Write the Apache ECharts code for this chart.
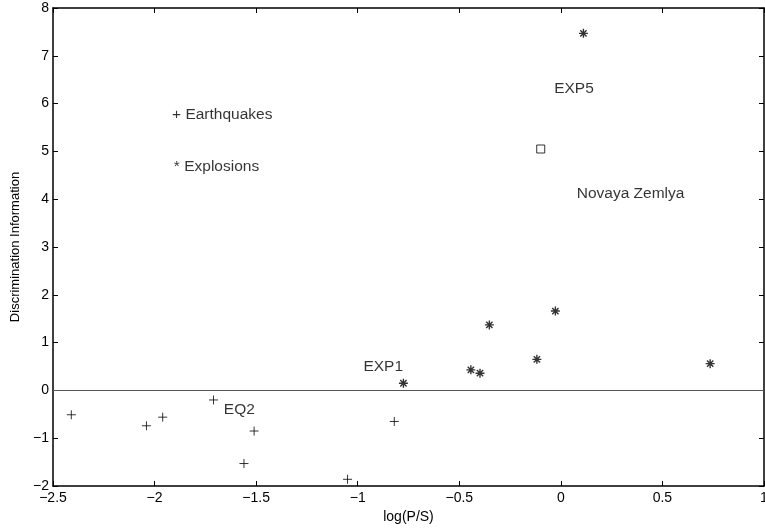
<!DOCTYPE html>
<html>
<head>
<meta charset="utf-8">
<script src="https://cdn.jsdelivr.net/npm/echarts@6/dist/echarts.min.js"></script>
<style>
  html, body { margin: 0; padding: 0; background: #fff; }
  #chart { width: 765px; height: 529px; }
</style>
</head>
<body>
<div id="chart"></div>
<script>
// earthquakes (+)
var quakeX = [-2.41, -2.04, -1.96, -1.71, -1.51, -1.56, -1.05, -0.82];
var quakeY = [-0.51, -0.74, -0.56, -0.20, -0.85, -1.53, -1.86, -0.65];
// explosions (*)
var blastX = [-0.775, -0.443, -0.398, -0.352, -0.118, -0.027, 0.735, 0.111];
var blastY = [0.15, 0.43, 0.36, 1.37, 0.65, 1.66, 0.56, 7.47];
// Novaya Zemlya (square)
var nzX = [-0.099];
var nzY = [5.05];
// text notes
var noteText = ['+ Earthquakes', '* Explosions', 'EQ2', 'EXP1', 'EXP5', 'Novaya Zemlya'];
var noteX = [-1.914, -1.905, -1.659, -0.972, -0.033, 0.078];
var noteY = [5.76, 4.67, -0.41, 0.50, 6.32, 4.11];

var font = "'Liberation Sans', Arial, Helvetica, sans-serif";

function pairs(xs, ys) {
    var out = [];
    for (var i = 0; i < xs.length; i++) {
        out.push([xs[i], ys[i]]);
    }
    return out;
}
function fmt(v) {
    return String(v).replace('-', '\u2212');
}

var notes = [];
for (var i = 0; i < noteText.length; i++) {
    notes.push({ value: [noteX[i], noteY[i]], name: noteText[i] });
}

var axisLine = { show: true, onZero: false, lineStyle: { color: '#000', width: 1.5 } };
var tick = { show: true, inside: true, length: 5, lineStyle: { color: '#000', width: 1 } };

var chart = echarts.init(document.getElementById('chart'));
var option = {
    animation: false,
    grid: { left: 53, right: 1, top: 8, bottom: 43, containLabel: false, outerBoundsMode: 'none' },
    xAxis: [
        {
            type: 'value', min: -2.5, max: 1, interval: 0.5,
            position: 'bottom',
            name: 'log(P/S)', nameLocation: 'middle', nameGap: 23,
            nameTextStyle: { color: '#000', fontSize: 14, fontFamily: font },
            axisLine: axisLine, axisTick: tick,
            axisLabel: { color: '#000', fontSize: 14, fontFamily: font, margin: 5, formatter: fmt },
            splitLine: { show: false }
        },
        {
            type: 'value', min: -2.5, max: 1, interval: 0.5,
            position: 'top',
            axisLine: axisLine, axisTick: tick,
            axisLabel: { show: false }, splitLine: { show: false }
        }
    ],
    yAxis: [
        {
            type: 'value', min: -2, max: 8, interval: 1,
            position: 'left',
            name: 'Discrimination Information', nameLocation: 'middle', nameGap: 24,
            nameTextStyle: { color: '#000', fontSize: 13, fontFamily: font },
            axisLine: axisLine, axisTick: tick,
            axisLabel: { color: '#000', fontSize: 14, fontFamily: font, margin: 4, formatter: fmt },
            splitLine: { show: false }
        },
        {
            type: 'value', min: -2, max: 8, interval: 1,
            position: 'right',
            axisLine: axisLine, axisTick: tick,
            axisLabel: { show: false }, splitLine: { show: false }
        }
    ],
    series: [
        {
            name: 'Earthquakes', type: 'scatter',
            data: pairs(quakeX, quakeY),
            symbol: 'path://M0,5L10,5M5,0L5,10',
            symbolSize: 9,
            itemStyle: { color: 'none', borderColor: '#000', borderWidth: 1 },
            markLine: {
                silent: true, symbol: 'none', label: { show: false },
                lineStyle: { color: '#555', width: 1.2, type: 'solid' },
                data: [{ yAxis: 0 }]
            }
        },
        {
            name: 'Explosions', type: 'scatter',
            data: pairs(blastX, blastY),
            symbol: 'path://M0,5L10,5M5,0L5,10M1.5,1.5L8.5,8.5M1.5,8.5L8.5,1.5',
            symbolSize: 9,
            itemStyle: { color: 'none', borderColor: '#000', borderWidth: 1.4 }
        },
        {
            name: 'Novaya Zemlya', type: 'scatter',
            data: pairs(nzX, nzY),
            symbol: 'rect', symbolSize: 8,
            itemStyle: { color: '#fff', borderColor: '#000', borderWidth: 1 }
        },
        {
            name: 'notes', type: 'scatter',
            data: notes,
            symbolSize: 0,
            silent: true,
            label: {
                show: true, position: 'right', distance: 0,
                formatter: '{b}',
                color: '#000', fontSize: 15.5, fontFamily: font
            }
        }
    ]
};
chart.setOption(option);
</script>
</body>
</html>
